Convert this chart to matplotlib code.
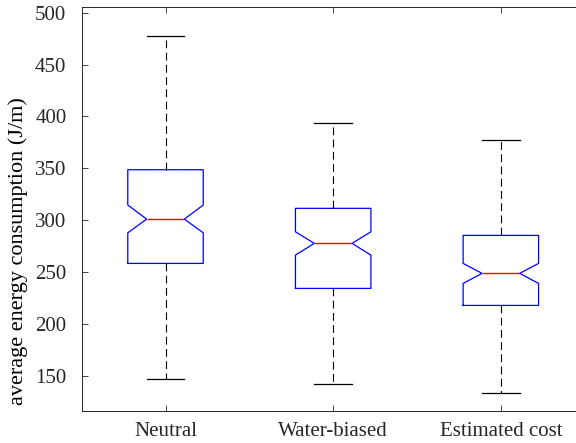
import matplotlib
matplotlib.use('Agg')
import matplotlib.pyplot as plt

# values
labels = ['Neutral', 'Water-biased', 'Estimated cost']
whislo = [146.5, 141.7, 133.6]
q1 = [258.3, 234.2, 217.8]
med = [301.0, 277.6, 248.7]
q3 = [348.6, 311.4, 285.3]
whishi = [477.8, 393.9, 377.2]
cilo = [287.8, 266.3, 239.0]
cihi = [314.6, 288.8, 258.3]

plt.rcParams['font.family'] = ['Liberation Serif', 'DejaVu Serif']

stats = []
for i in range(len(labels)):
    stats.append(dict(label=labels[i], whislo=whislo[i], q1=q1[i], med=med[i],
                      q3=q3[i], whishi=whishi[i], cilo=cilo[i], cihi=cihi[i],
                      fliers=[]))

fig = plt.figure(figsize=(5.76, 4.43), dpi=100)
ax = fig.add_axes([0.1418, 0.0722, 0.8733, 0.9113])

ax.bxp(stats, positions=[1, 2, 3], widths=0.45, shownotches=True,
       showfliers=False,
       boxprops=dict(color='blue', linewidth=0.9),
       medianprops=dict(color='red', linewidth=1.0),
       whiskerprops=dict(color='black', linewidth=0.8, linestyle=(0, (7, 4))),
       capprops=dict(color='black', linewidth=0.9))

ax.set_xlim(0.5, 3.5)
ax.set_ylim(116, 505.2)
ax.set_yticks([150, 200, 250, 300, 350, 400, 450, 500])
ax.set_ylabel('average energy consumption (J/m)', fontsize=16)
ax.yaxis.set_label_coords(-0.107, 0.396)
ax.tick_params(direction='in', length=4, width=0.6, top=True, right=True,
               labelsize=15, colors='#262626')
ax.tick_params(axis='x', pad=8)
ax.tick_params(axis='y', pad=11)
for s in ax.spines.values():
    s.set_linewidth(0.7)
    s.set_color('#262626')

fig.savefig('out.png', dpi=100)
